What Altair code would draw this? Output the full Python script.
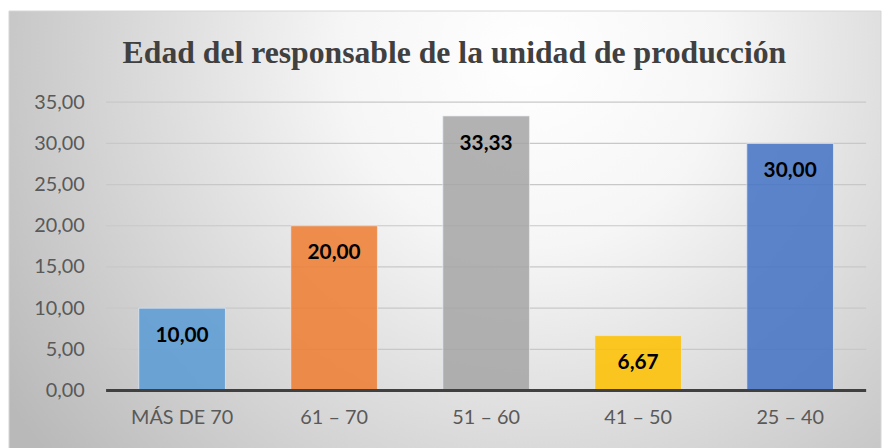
import altair as alt
import pandas as pd

title_text = "Edad del responsable de la unidad de producción"
categories = ["MÁS DE 70", "61 – 70", "51 – 60", "41 – 50", "25 – 40"]
values = [10.00, 20.00, 33.33, 6.67, 30.00]
colors = ["#5b9bd5", "#ed7d31", "#a5a5a5", "#ffc000", "#4472c4"]
y_ticks = [0, 5, 10, 15, 20, 25, 30, 35]

df = pd.DataFrame({"cat": categories, "val": values, "color": colors})
grid_df = pd.DataFrame({"t": y_ticks[1:]})

W, H = 767, 291

bg_gradient = {
    "gradient": "radial",
    "x1": 0.6, "y1": 0.3, "r1": 0,
    "x2": 0.6, "y2": 0.3, "r2": 0.72,
    "stops": [
        {"offset": 0.0, "color": "#ffffff"},
        {"offset": 0.3, "color": "#f6f6f6"},
        {"offset": 1.0, "color": "#b9b9b9"},
    ],
}

bg = alt.Chart(pd.DataFrame({"k": [0]})).mark_rect(
    fill=bg_gradient, stroke="#d6d6d6", strokeWidth=1
).encode(
    x=alt.value(-98), x2=alt.value(W + 15),
    y=alt.value(-92), y2=alt.value(H + 62),
)

title = alt.Chart(pd.DataFrame({"s": [title_text]})).mark_text(
    font="Liberation Serif", fontSize=32, fontWeight="bold", color="#404040",
    baseline="alphabetic", align="center",
).encode(
    text="s:N", x=alt.value(W / 2 - 32), y=alt.value(-40),
)

yscale = alt.Scale(domain=[0, 35], nice=False)

grid = alt.Chart(grid_df).mark_rule(color="#c8c8c8", strokeWidth=1.2).encode(
    y=alt.Y("t:Q", scale=yscale), x=alt.value(0), x2=alt.value(W)
)

xenc = alt.X("cat:N", sort=categories, title=None,
             scale=alt.Scale(paddingInner=0.43, paddingOuter=0.215),
             axis=alt.Axis(labelAngle=0, labelFont="Lato", labelFontSize=20,
                           labelColor="#595959", labelPadding=17, ticks=False,
                           domain=False, grid=False, zindex=2))
yenc = alt.Y("val:Q", title=None, scale=yscale,
             axis=alt.Axis(values=y_ticks, format=".2f", labelFont="Lato",
                           labelFontSize=20, labelColor="#595959", labelPadding=22,
                           ticks=False, domain=False, grid=False, zindex=2))

bars = alt.Chart(df).mark_bar(
    fillOpacity=0.86, stroke="#e8eef6", strokeWidth=1, strokeOpacity=0.7
).encode(
    x=xenc, y=yenc,
    color=alt.Color("color:N", scale=None, legend=None),
)

labels = alt.Chart(df).mark_text(
    font="Lato", fontSize=21, fontWeight="bold", color="#000000",
    baseline="middle", dy=28,
).encode(
    x=alt.X("cat:N", sort=categories),
    y=alt.Y("val:Q"),
    text=alt.Text("val:Q", format=".2f"),
)

zero = alt.Chart(pd.DataFrame({"z": [0]})).mark_rule(color="#404040", strokeWidth=3).encode(
    y="z:Q", x=alt.value(0), x2=alt.value(W)
)

chart = alt.layer(bg, title, grid, bars, labels, zero).properties(
    width=W, height=H,
).configure(
    padding=0,
    locale={"number": {"decimal": ",", "thousands": ".", "grouping": [3],
                       "currency": ["", "€"]}},
).configure_view(stroke=None)

chart.save("out.html", embed_options={"renderer": "svg", "actions": False})
